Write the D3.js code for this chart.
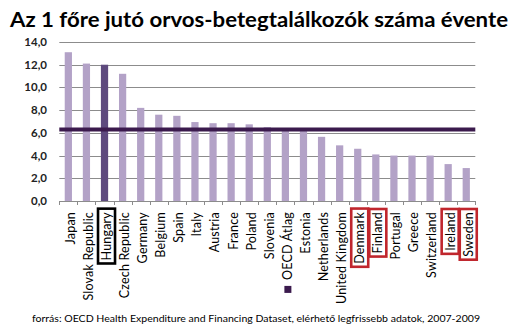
<!DOCTYPE html>
<html><head><meta charset="utf-8">
<script src="https://cdn.jsdelivr.net/npm/d3@7"></script>
<style>body{margin:0;background:#fff}svg{display:block}</style>
</head><body>
<svg id="c" width="521" height="331"></svg>
<script>
const categories = ["Japan","Slovak Republic","Hungary","Czech Republic","Germany","Belgium","Spain","Italy","Austria","France","Poland","Slovenia","OECD Átlag","Estonia","Netherlands","United Kingdom","Denmark","Finland","Portugal","Greece","Switzerland","Ireland","Sweden"];
const values = [13.1,12.1,12.0,11.2,8.2,7.6,7.5,6.95,6.85,6.85,6.75,6.5,6.25,6.25,5.65,4.9,4.6,4.1,4.0,4.0,4.0,3.25,2.9];
const oecdAverage = 6.3;
const yTicks = [0,2,4,6,8,10,12,14];
const highlightBlack = ["Hungary"];
const highlightRed = ["Denmark","Finland","Ireland","Sweden"];
const legendCategory = "OECD Átlag";
const title = "Az 1 főre jutó orvos-betegtalálkozók száma évente";
const source = "forrás: OECD Health Expenditure and Financing Dataset, elérhető legfrissebb adatok, 2007-2009";

const svg = d3.select("#c");
const L = 59.3, R = 475.3, T = 42, B = 201;
const x = d3.scaleBand().domain(categories).range([L, R]).paddingInner(0.6).paddingOuter(0.3);
const y = d3.scaleLinear().domain([0,14]).range([B, T]);
const font = "Lato, 'Open Sans', sans-serif";

svg.append("text").attr("x",10).attr("y",27).attr("font-family",font).attr("font-weight","bold")
  .attr("font-size",21).attr("fill","#000").attr("textLength",498).attr("lengthAdjust","spacingAndGlyphs").text(title);

// gridlines
svg.append("g").selectAll("line").data(yTicks.filter(d=>d>0)).join("line")
  .attr("x1",L).attr("x2",R).attr("y1",d=>Math.round(y(d))+0.5).attr("y2",d=>Math.round(y(d))+0.5)
  .attr("stroke","#8c8c8c").attr("stroke-width",1);

// y labels
svg.append("g").selectAll("text").data(yTicks).join("text")
  .attr("x",47).attr("y",d=>y(d)).attr("dy","0.35em").attr("text-anchor","end")
  .attr("font-family",font).attr("font-size",11.5).attr("font-weight","bold").attr("fill","#222")
  .text(d=>d3.format(".1f")(d).replace(".",","));

// bars
svg.append("g").selectAll("rect").data(categories).join("rect")
  .attr("x",d=>x(d)).attr("width",x.bandwidth())
  .attr("y",(d,i)=>y(values[i])).attr("height",(d,i)=>B-y(values[i]))
  .attr("fill",d=>highlightBlack.includes(d)?"#5e4a7e":"#b3a2c7");

// average line
svg.append("line").attr("x1",L).attr("x2",R).attr("y1",y(oecdAverage)).attr("y2",y(oecdAverage))
  .attr("stroke","#3b1a4d").attr("stroke-width",4);

// x axis
const ax = svg.append("g").attr("transform",`translate(0,${B})`);
ax.append("line").attr("x1",L).attr("x2",R).attr("y1",0.5).attr("y2",0.5).attr("stroke","#8c8c8c");
const bounds = d3.range(categories.length+1).map(i=>L+i*(R-L)/categories.length);
ax.selectAll("line.t").data(bounds).join("line").attr("class","t")
  .attr("x1",d=>Math.round(d)+0.5).attr("x2",d=>Math.round(d)+0.5).attr("y1",0).attr("y2",4).attr("stroke","#8c8c8c");

// labels
const lg = svg.append("g").selectAll("g").data(categories).join("g")
  .attr("transform",d=>`translate(${x(d)+x.bandwidth()/2+2},212) rotate(-90)`);
lg.append("text").attr("text-anchor","end").attr("dy","0.35em")
  .attr("font-family",font).attr("font-size",12.5).attr("letter-spacing",0.2).attr("fill","#000").text(d=>d);
lg.each(function(d){
  const g = d3.select(this);
  const bb = g.select("text").node().getBBox();
  if (highlightBlack.includes(d) || highlightRed.includes(d)) {
    const pad = 3;
    g.insert("rect","text").attr("x",bb.x-pad).attr("y",-8.5).attr("width",bb.width+pad*2).attr("height",17)
      .attr("fill","#fff").attr("stroke",highlightBlack.includes(d)?"#000":"#c0262d").attr("stroke-width",2.6);
  }
  if (d===legendCategory) {
    g.append("rect").attr("x",bb.x-13).attr("y",-3).attr("width",7).attr("height",7).attr("fill","#3b1a4d");
  }
});

svg.append("text").attr("x",32).attr("y",322).attr("font-family",font).attr("font-size",10)
  .attr("fill","#000").attr("textLength",448).attr("lengthAdjust","spacingAndGlyphs").text(source);
</script>
</body></html>
